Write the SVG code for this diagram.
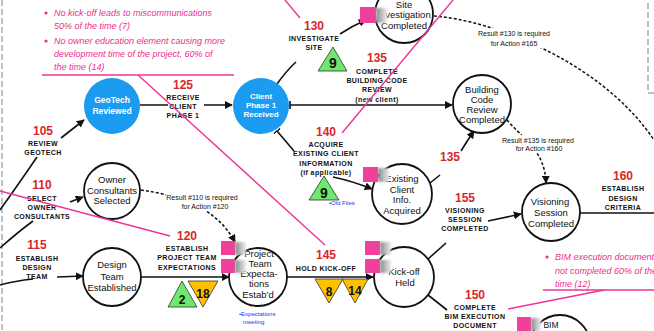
<svg xmlns="http://www.w3.org/2000/svg" width="654" height="331" viewBox="0 0 654 331">
<style>
.node{fill:#fff;stroke:#111;stroke-width:1.8}
.blue{fill:#1b9cf0;stroke:none}
.nt{font-family:"Liberation Sans",Arial,sans-serif;font-size:9.5px;fill:#111;text-anchor:middle}
.wt{font-family:"Liberation Sans",Arial,sans-serif;font-size:8.5px;font-weight:bold;fill:#fff;text-anchor:middle}
.wt2{font-family:"Liberation Sans",Arial,sans-serif;font-size:8px;font-weight:bold;fill:#fff;text-anchor:middle}
.num{font-family:"Liberation Sans",Arial,sans-serif;font-size:12px;font-weight:bold;fill:#d9262b;text-anchor:middle}
.cap{font-family:"Liberation Sans",Arial,sans-serif;font-size:7px;font-weight:bold;fill:#111;text-anchor:middle;letter-spacing:0.4px}
.sm{font-family:"Liberation Sans",Arial,sans-serif;font-size:7px;fill:#111;text-anchor:middle}
.blu{font-family:"Liberation Sans",Arial,sans-serif;font-size:6px;fill:#2233ee}
.pk{font-family:"Liberation Sans",Arial,sans-serif;font-size:9px;font-style:italic;fill:#ec2f8c}
.ln{fill:none;stroke:#111;stroke-width:1.6}
.dl{fill:none;stroke:#111;stroke-width:1.5;stroke-dasharray:3 2}
.pl{fill:none;stroke:#ee3399;stroke-width:1.4}
.bg{fill:#fff}
.sq{fill:#f0409a}
.ic{fill:url(#icg);filter:url(#bl)}
.tg{fill:#6ee86e;stroke:#333;stroke-width:0.8}
.to{fill:#ffc000;stroke:#333;stroke-width:0.8}
.tn{font-family:"Liberation Sans",Arial,sans-serif;font-size:14px;font-weight:bold;fill:#111;text-anchor:middle}
.tn2{font-family:"Liberation Sans",Arial,sans-serif;font-size:12px;font-weight:bold;fill:#111;text-anchor:middle}
.bd{fill:none;stroke:#aaa;stroke-width:1.5;stroke-dasharray:6 3}
</style>
<defs>
<marker id="arr" viewBox="0 0 10 10" refX="9" refY="5" markerWidth="8" markerHeight="8" orient="auto" markerUnits="userSpaceOnUse"><path d="M0,0 L10,5 L0,10 z" fill="#111"/></marker>
<marker id="tick" viewBox="0 0 2 10" refX="1" refY="5" markerWidth="1.6" markerHeight="9" orient="auto" markerUnits="userSpaceOnUse"><rect width="2" height="10" fill="#111"/></marker>
<linearGradient id="icg" x1="0" y1="0" x2="1" y2="0"><stop offset="0" stop-color="#888"/><stop offset="1" stop-color="#eee"/></linearGradient>
<filter id="bl" x="-50%" y="-50%" width="200%" height="200%"><feGaussianBlur stdDeviation="1.3"/></filter>
</defs>
<rect width="654" height="331" fill="#fff"/>
<g id="borders">
<path class="bd" d="M2,0 L2,331"/>
<path class="bd" d="M648,3 L648,93 L654,93"/>
</g>
<g id="connectors">
<path class="ln" d="M0,210 Q20,182 37,157"/>
<path class="ln" d="M61,138 L84,120" marker-end="url(#arr)"/>
<path class="ln" d="M0,248 Q18,232 33,221"/>
<path class="ln" d="M70,202 L83,197" marker-end="url(#arr)"/>
<path class="ln" d="M0,285 Q15,281 33,279"/>
<path class="ln" d="M57,277 L83,276" marker-end="url(#arr)"/>
<path class="ln" d="M140,105 L232,105" marker-end="url(#arr)"/>
<path class="ln" d="M290,105 L452,105" marker-start="url(#tick)" marker-end="url(#arr)"/>
<path class="ln" d="M277,84 Q287,70 296,62"/>
<path class="ln" d="M340,34 Q352,26 366,20" marker-end="url(#arr)"/>
<path class="ln" d="M277,131 L294,151" marker-start="url(#tick)"/>
<path class="ln" d="M333,177 Q352,181 372,189" marker-end="url(#arr)"/>
<path class="ln" d="M430,183 L440,175"/>
<path class="ln" d="M461,151 Q467,141 474,131" marker-end="url(#arr)"/>
<path class="dl" d="M507,120 C522,138 545,150 546,183" marker-end="url(#arr)"/>
<path class="dl" d="M434,16 C490,20 600,60 654,140"/>
<path class="dl" d="M141,190 C175,195 215,205 235,242" marker-end="url(#arr)"/>
<path class="ln" d="M141,277 L229,277" marker-end="url(#arr)"/>
<path class="ln" d="M287,277 L373,277" marker-end="url(#arr)"/>
<path class="ln" d="M428,259 L446,243"/>
<path class="ln" d="M488,221 L521,214" marker-end="url(#arr)"/>
<path class="ln" d="M428,295 L447,310"/>
<path class="ln" d="M580,213 L654,213"/>
</g>
<g id="dashed-labels">
<rect class="bg" x="166" y="192" width="73" height="19"/>
<text class="sm" x="202" y="199.5">Result #110 is required</text>
<text class="sm" x="205" y="208.5">for Action #120</text>
<rect class="bg" x="476" y="28" width="76" height="20"/>
<text class="sm" x="514" y="35.5">Result #130 is required</text>
<text class="sm" x="514" y="45.5">for Action #165</text>
<rect class="bg" x="500" y="135" width="77" height="18"/>
<text class="sm" x="538" y="142.5">Result #135 is required</text>
<text class="sm" x="539" y="150.5">for Action #160</text>
</g>
<g id="a105"><text class="num" x="43" y="135">105</text><text class="cap" x="43" y="145.5">REVIEW</text><text class="cap" x="43" y="154.5">GEOTECH</text></g>
<g id="a110"><text class="num" x="42" y="189">110</text><text class="cap" x="42" y="200.5">SELECT</text><text class="cap" x="42" y="209.5">OWNER</text><text class="cap" x="42" y="218.5">CONSULTANTS</text></g>
<g id="a115"><text class="num" x="37" y="249">115</text><text class="cap" x="37" y="260.5">ESTABLISH</text><text class="cap" x="37" y="269.5">DESIGN</text><text class="cap" x="37" y="278.5">TEAM</text></g>
<g id="a125"><text class="num" x="183" y="89">125</text><text class="cap" x="183" y="99.5">RECEIVE</text><rect class="bg" x="168" y="101" width="36" height="9"/><text class="cap" x="183" y="108.5">CLIENT</text><text class="cap" x="183" y="117.5">PHASE 1</text></g>
<g id="a130"><text class="num" x="314" y="30">130</text><text class="cap" x="314" y="40.5">INVESTIGATE</text><text class="cap" x="314" y="49.5">SITE</text>
<path class="tg" d="M333,47 L347,71 L318,71 z"/><text class="tn" x="333" y="68">9</text></g>
<g id="a135"><text class="num" x="377" y="62">135</text><text class="cap" x="377" y="73.5">COMPLETE</text><text class="cap" x="377" y="82.5">BUILDING CODE</text><text class="cap" x="377" y="91.5">REVIEW</text><text class="cap" x="377" y="101.5">(new client)</text></g>
<g id="a135b"><text class="num" x="450" y="161">135</text></g>
<g id="a140"><text class="num" x="326" y="136">140</text><text class="cap" x="326" y="146.5">ACQUIRE</text><text class="cap" x="326" y="155.5">EXISTING CLIENT</text><text class="cap" x="326" y="165.5">INFORMATION</text><text class="cap" x="326" y="174.5">(if applicable)</text>
<path class="tg" d="M324,176 L339,200 L309,200 z"/><text class="tn" x="324" y="198">9</text>
<text class="blu" x="329" y="205">•Old Files</text></g>
<g id="a120"><text class="num" x="187" y="240">120</text><text class="cap" x="187" y="250.5">ESTABLISH</text><text class="cap" x="187" y="259.5">PROJECT TEAM</text><text class="cap" x="187" y="269.5">EXPECTATIONS</text>
<path class="tg" d="M182,281 L197,307 L168,307 z"/><text class="tn2" x="182" y="304">2</text>
<path class="to" d="M188,281 L218,281 L203,307 z"/><text class="tn2" x="203" y="298">18</text></g>
<g id="a145"><text class="num" x="326" y="259">145</text><text class="cap" x="326" y="270.5">HOLD KICK-OFF</text>
<path class="to" d="M315,279 L343,279 L329,303 z"/><text class="tn2" x="329" y="296">8</text>
<path class="to" d="M342,279 L368,279 L355,303 z"/><text class="tn2" x="355" y="295">14</text></g>
<g id="a150"><text class="num" x="475" y="299">150</text><text class="cap" x="475" y="309.5">COMPLETE</text><text class="cap" x="475" y="318.5">BIM EXECUTION</text><text class="cap" x="475" y="327.5">DOCUMENT</text></g>
<g id="a155"><text class="num" x="465" y="202">155</text><text class="cap" x="465" y="212.5">VISIONING</text><text class="cap" x="465" y="221.5">SESSION</text><text class="cap" x="465" y="230.5">COMPLETED</text></g>
<g id="a160"><text class="num" x="623" y="180">160</text><text class="cap" x="623" y="190.5">ESTABLISH</text><text class="cap" x="623" y="200.5">DESIGN</text><text class="cap" x="623" y="209.5">CRITERIA</text></g>
<g id="n-geotech"><circle class="blue" cx="112" cy="106" r="28"/><text class="wt" x="112" y="103">GeoTech</text><text class="wt" x="112" y="114">Reviewed</text></g>
<g id="n-client"><circle class="blue" cx="261" cy="106" r="28"/><text class="wt2" x="261" y="98.5">Client</text><text class="wt2" x="261" y="107.5">Phase 1</text><text class="wt2" x="261" y="116.5">Received</text></g>
<g id="n-owner"><circle class="node" cx="112" cy="191" r="28"/><text class="nt" x="112" y="183">Owner</text><text class="nt" x="112" y="193.5">Consultants</text><text class="nt" x="112" y="204">Selected</text></g>
<g id="n-design"><circle class="node" cx="112" cy="277" r="29"/><text class="nt" x="112" y="268">Design</text><text class="nt" x="112" y="280">Team</text><text class="nt" x="112" y="291">Established</text></g>
<g id="n-project"><circle class="node" cx="258" cy="277" r="29"/><text class="nt" x="259" y="257">Project</text><text class="nt" x="260" y="267">Team</text><text class="nt" x="259" y="277">Expecta-</text><text class="nt" x="259" y="287">tions</text><text class="nt" x="258" y="298">Estab’d</text>
<rect class="sq" x="221" y="241" width="14" height="14"/><rect class="sq" x="221" y="259" width="14" height="14"/><rect class="ic" x="235" y="242" width="11" height="13"/><rect class="ic" x="235" y="260" width="11" height="13"/>
<text class="blu" x="239" y="316">•Expectations</text><text class="blu" x="243" y="324">meeting</text></g>
<g id="n-kickoff"><circle class="node" cx="404" cy="277" r="30"/><text class="nt" x="404" y="275">Kick-off</text><text class="nt" x="405" y="286">Held</text>
<rect class="sq" x="365" y="241" width="15" height="14"/><rect class="sq" x="365" y="259" width="15" height="14"/><rect class="ic" x="380" y="242" width="11" height="13"/><rect class="ic" x="380" y="260" width="11" height="13"/></g>
<g id="n-site"><circle class="node" cx="404" cy="14" r="29"/><text class="nt" x="404" y="8">Site</text><text class="nt" x="404" y="18">Investigation</text><text class="nt" x="404" y="29">Completed</text>
<rect class="sq" x="360" y="7" width="16" height="16"/><rect class="ic" x="376" y="8" width="11" height="15"/></g>
<g id="n-building"><circle class="node" cx="482" cy="104" r="29"/><text class="nt" x="482" y="93">Building</text><text class="nt" x="482" y="103">Code</text><text class="nt" x="482" y="113">Review</text><text class="nt" x="482" y="123">Completed</text></g>
<g id="n-existing"><circle class="node" cx="402" cy="194" r="30"/><text class="nt" x="402" y="182">Existing</text><text class="nt" x="402" y="193">Client</text><text class="nt" x="402" y="203">Info.</text><text class="nt" x="402" y="214">Acquired</text>
<rect class="sq" x="363" y="167" width="15" height="15"/><rect class="ic" x="378" y="168" width="11" height="14"/></g>
<g id="n-visioning"><circle class="node" cx="551" cy="212" r="29"/><text class="nt" x="550" y="205">Visioning</text><text class="nt" x="551" y="216">Session</text><text class="nt" x="551" y="227">Completed</text></g>
<g id="n-bim"><circle class="node" cx="560" cy="345" r="30"/><text class="nt" x="551" y="328" style="font-size:8.5px">BIM</text>
<rect class="sq" x="517" y="317" width="14" height="14"/><rect class="ic" x="531" y="318" width="10" height="13"/></g>
<g id="annotations">
<circle cx="46" cy="13" r="1.6" fill="#ec2f8c"/>
<text class="pk" x="54" y="16">No kick-off leads to miscommunications</text>
<text class="pk" x="54" y="29">50% of the time (7)</text>
<circle cx="46" cy="41" r="1.6" fill="#ec2f8c"/>
<text class="pk" x="54" y="44">No owner education element causing more</text>
<text class="pk" x="54" y="57">development time of the project, 60% of</text>
<text class="pk" x="54" y="70">the time (14)</text>
<path class="pl" d="M42,75 L234,75"/>
<path class="pl" d="M138,75 L325,245"/>
<path class="pl" d="M285,0 L300,18"/>
<path class="pl" d="M453,0 L342,133"/>
<path class="pl" d="M0,191 L170,236"/>
<circle cx="547" cy="257" r="1.6" fill="#ec2f8c"/>
<text class="pk" x="555" y="260">BIM execution document</text>
<text class="pk" x="555" y="274">not completed 60% of the</text>
<text class="pk" x="555" y="287">time (12)</text>
<path class="pl" d="M543,290 L654,290"/>
<path class="pl" d="M508,309 L604,290"/>
</g>
</svg>
